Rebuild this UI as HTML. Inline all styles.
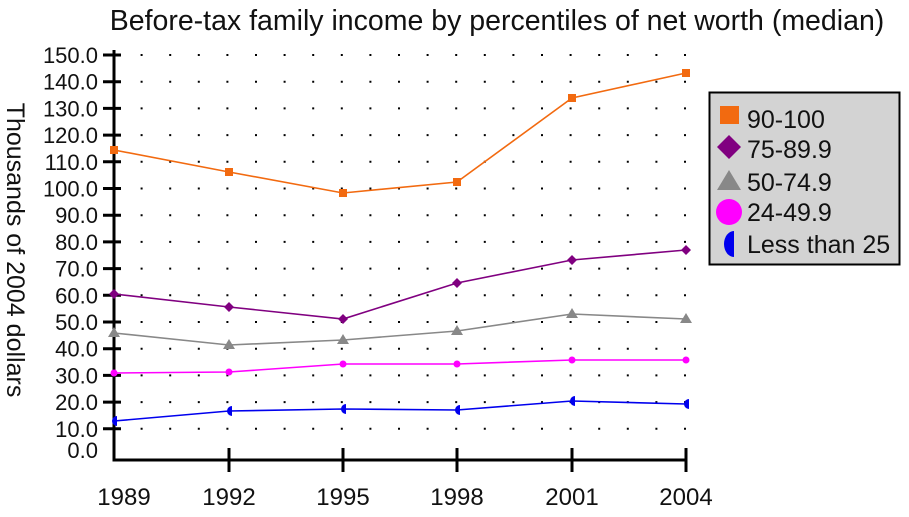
<!DOCTYPE html>
<html><head><style>body{margin:0;background:#fff}</style></head><body>
<svg width="909" height="512" xmlns="http://www.w3.org/2000/svg" font-family="Liberation Sans, sans-serif">
<text x="497" y="30" font-size="28.5" text-anchor="middle" fill="#111">Before-tax family income by percentiles of net worth (median)</text>
<text transform="translate(7,250) rotate(90)" font-size="25" text-anchor="middle" fill="#111">Thousands of 2004 dollars</text>
<g stroke="#000" stroke-width="2" stroke-dasharray="2,26.6" stroke-dashoffset="-26.6">
<line x1="114" y1="55" x2="700" y2="55"/><line x1="114" y1="81.7" x2="700" y2="81.7"/><line x1="114" y1="108.4" x2="700" y2="108.4"/><line x1="114" y1="135.1" x2="700" y2="135.1"/><line x1="114" y1="161.8" x2="700" y2="161.8"/><line x1="114" y1="188.5" x2="700" y2="188.5"/><line x1="114" y1="215.2" x2="700" y2="215.2"/><line x1="114" y1="241.9" x2="700" y2="241.9"/><line x1="114" y1="268.6" x2="700" y2="268.6"/><line x1="114" y1="295.3" x2="700" y2="295.3"/><line x1="114" y1="322" x2="700" y2="322"/><line x1="114" y1="348.7" x2="700" y2="348.7"/><line x1="114" y1="375.4" x2="700" y2="375.4"/><line x1="114" y1="402.1" x2="700" y2="402.1"/><line x1="114" y1="428.8" x2="700" y2="428.8"/>
</g>
<g stroke="#000" stroke-width="3" fill="none">
<line x1="114" y1="50" x2="114" y2="461"/><line x1="112.5" y1="460" x2="687" y2="460"/>
<path d="M103 55h18M103 81.7h18M103 108.4h18M103 135.1h18M103 161.8h18M103 188.5h18M103 215.2h18M103 241.9h18M103 268.6h18M103 295.3h18M103 322h18M103 348.7h18M103 375.4h18M103 402.1h18M103 428.8h18"/>
<path d="M229 448v24M343 448v24M457 448v24M572 448v24M686 448v24"/>
</g>
<g font-size="22" text-anchor="end" fill="#111">
<text x="98" y="63">150.0</text><text x="98" y="89.7">140.0</text><text x="98" y="116.4">130.0</text><text x="98" y="143.1">120.0</text><text x="98" y="169.8">110.0</text><text x="98" y="196.5">100.0</text><text x="98" y="223.2">90.0</text><text x="98" y="249.9">80.0</text><text x="98" y="276.6">70.0</text><text x="98" y="303.3">60.0</text><text x="98" y="330">50.0</text><text x="98" y="356.7">40.0</text><text x="98" y="383.4">30.0</text><text x="98" y="410.1">20.0</text><text x="98" y="436.8">10.0</text><text x="98" y="458">0.0</text>
</g>
<g font-size="24" text-anchor="middle" fill="#111">
<text x="124" y="505">1989</text><text x="229" y="505">1992</text><text x="343" y="505">1995</text><text x="457" y="505">1998</text><text x="572" y="505">2001</text><text x="686" y="505">2004</text>
</g>
<g fill="none" stroke-width="1.6">
<polyline stroke="#f26a10" points="114,150 229,172 343,193 457,182 572,98 686,73"/>
<polyline stroke="#800080" points="114,294 229,307 343,319 457,283 572,260 686,250"/>
<polyline stroke="#888" points="114,333 229,345 343,340 457,331 572,314 686,319"/>
<polyline stroke="#ff00ff" points="114,373 229,372 343,364 457,364 572,360 686,360"/>
<polyline stroke="#0000ee" points="114,421 229,411 343,409 457,410 572,401 686,404"/>
</g>
<g fill="#f26a10"><rect x="110" y="146" width="8" height="8"/><rect x="225" y="168" width="8" height="8"/><rect x="339" y="189" width="8" height="8"/><rect x="453" y="178" width="8" height="8"/><rect x="568" y="94" width="8" height="8"/><rect x="682" y="69" width="8" height="8"/></g>
<g fill="#800080"><path d="M114 289l5 5-5 5-5-5zM229 302l5 5-5 5-5-5zM343 314l5 5-5 5-5-5zM457 278l5 5-5 5-5-5zM572 255l5 5-5 5-5-5zM686 245l5 5-5 5-5-5z"/></g>
<g fill="#888"><path d="M114 327l6 10h-12zM229 339l6 10h-12zM343 334l6 10h-12zM457 325l6 10h-12zM572 308l6 10h-12zM686 313l6 10h-12z"/></g>
<g fill="#ff00ff"><circle cx="114" cy="373" r="3.5"/><circle cx="229" cy="372" r="3.5"/><circle cx="343" cy="364" r="3.5"/><circle cx="457" cy="364" r="3.5"/><circle cx="572" cy="360" r="3.5"/><circle cx="686" cy="360" r="3.5"/></g>
<g fill="#0000ee"><path d="M117 416a5 5 0 0 0 0 10zM232 406a5 5 0 0 0 0 10zM346 404a5 5 0 0 0 0 10zM460 405a5 5 0 0 0 0 10zM575 396a5 5 0 0 0 0 10zM689 399a5 5 0 0 0 0 10z"/></g>
<rect x="709.5" y="92.5" width="190" height="172" fill="#d3d3d3" stroke="#000" stroke-width="2"/>
<rect x="720" y="106" width="19" height="18" fill="#f26a10"/>
<path d="M729 135l12 12-12 12-12-12z" fill="#800080"/>
<path d="M729 170l12 20h-24z" fill="#888"/>
<circle cx="729" cy="212" r="13" fill="#ff00ff"/>
<path d="M734 231a10 13 0 0 0 0 26z" fill="#0000ee"/>
<g font-size="25" fill="#111">
<text x="747" y="128">90-100</text><text x="747" y="158">75-89.9</text><text x="747" y="191">50-74.9</text><text x="747" y="221">24-49.9</text><text x="747" y="253">Less than 25</text>
</g>
</svg>
</body></html>
